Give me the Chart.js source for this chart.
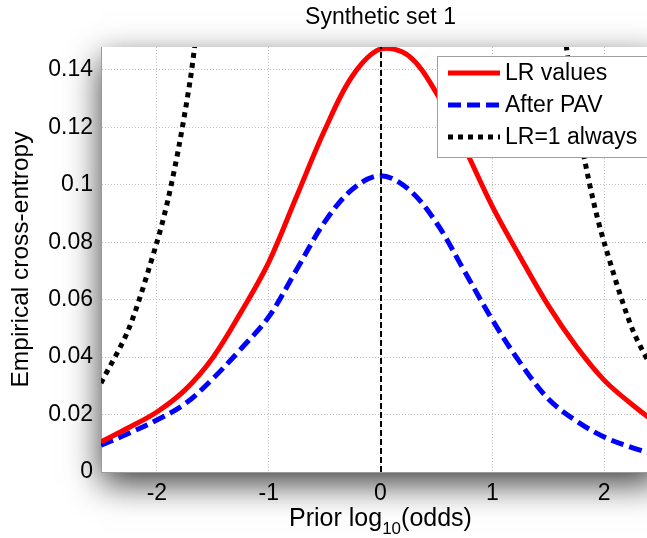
<!DOCTYPE html>
<html>
<head>
<meta charset="utf-8">
<script src="https://cdn.jsdelivr.net/npm/chart.js@4.4.0/dist/chart.umd.min.js"></script>
<style>
    html, body { margin: 0; padding: 0; background: #fff; overflow: hidden; }
    #wrap { width: 670px; height: 538px; }
</style>
</head>
<body>
<div id="wrap"><canvas id="ece" width="670" height="538"></canvas></div>
<script>
// prior log10(odds) grid the curves were read at
const priorLogOdds = [-2.5, -2.25, -2, -1.75, -1.5, -1.25, -1, -0.75, -0.5, -0.25, 0,
    0.25, 0.5, 0.75, 1, 1.25, 1.5, 1.75, 2, 2.25, 2.5];
const lrValues = [0.0105, 0.0155, 0.0209, 0.0285, 0.0398, 0.0555, 0.073, 0.096, 0.119, 0.138, 0.1473,
    0.145, 0.132, 0.113, 0.0925, 0.0748, 0.058, 0.0438, 0.032, 0.0235, 0.016];
const afterPav = [0.0093, 0.0135, 0.0181, 0.0237, 0.0325, 0.0428, 0.054, 0.0705, 0.087, 0.0985, 0.1032,
    0.0985, 0.0868, 0.07, 0.053, 0.038, 0.0255, 0.0178, 0.0122, 0.0085, 0.0055];
// LR=1 curve leaves the plot in the middle -> null gap
const neutralX = [-2.5, -2.25, -2, -1.9, -1.8, -1.7, -1.65, 0, 1.65, 1.7, 1.8, 1.9, 2, 2.25, 2.5];
const neutralY = [0.031, 0.05, 0.08, 0.095, 0.114, 0.137, 0.152, null, 0.152, 0.137, 0.114, 0.095, 0.08, 0.05, 0.031];
const xTicks = [-2, -1, 0, 1, 2];
const yTicks = [0, 0.02, 0.04, 0.06, 0.08, 0.1, 0.12, 0.14];
const markerAt = [0];

const FONT = "'Liberation Sans', Arial, sans-serif";
Chart.defaults.font.family = FONT;
Chart.defaults.color = "#000";

function pts(xs, ys) {
    return xs.map((x, i) => ({ x: x, y: ys[i] }));
}

const shadowBox = {
    id: "shadowBox",
    beforeDraw(chart) {
        const a = chart.chartArea;
        const c = chart.ctx;
        c.save();
        c.shadowColor = "rgba(0,0,0,0.75)";
        c.shadowBlur = 32;
        c.shadowOffsetY = 12;
        c.fillStyle = "#fff";
        c.fillRect(a.left, a.top, a.right - a.left, a.bottom - a.top);
        c.restore();
    }
};

const zeroLine = {
    id: "zeroLine",
    afterDatasetsDraw(chart) {
        const a = chart.chartArea;
        const c = chart.ctx;
        const xs = chart.scales.x;
        c.save();
        c.strokeStyle = "#000";
        c.lineWidth = 2;
        c.setLineDash([6, 3]);
        markerAt.forEach((v) => {
            const px = Math.round(xs.getPixelForValue(v));
            c.beginPath();
            c.moveTo(px, a.bottom);
            c.lineTo(px, a.top);
            c.stroke();
        });
        c.restore();
    }
};

const texts = {
    id: "texts",
    afterDraw(chart) {
        const a = chart.chartArea;
        const c = chart.ctx;
        const mid = (a.left + a.right) / 2;
        c.save();
        c.fillStyle = "#000";
        // title
        c.font = "23px " + FONT;
        c.textAlign = "center";
        c.textBaseline = "middle";
        c.fillText("Synthetic set 1", mid, 18);
        // x title with subscript
        c.textBaseline = "alphabetic";
        c.textAlign = "left";
        const p1 = "Prior log", sub = "10", p2 = "(odds)";
        c.font = "25px " + FONT;
        const w1 = c.measureText(p1).width, w3 = c.measureText(p2).width;
        c.font = "17px " + FONT;
        const w2 = c.measureText(sub).width;
        let x = mid - (w1 + w2 + w3) / 2;
        const base = 526;
        c.font = "25px " + FONT;
        c.fillText(p1, x, base);
        c.font = "17px " + FONT;
        c.fillText(sub, x + w1, base + 8);
        c.font = "25px " + FONT;
        c.fillText(p2, x + w1 + w2, base);

        // legend
        const lx = 437.5, ly = 56.5;
        c.fillStyle = "#fff";
        c.strokeStyle = "#a0a0a0";
        c.lineWidth = 1;
        c.fillRect(lx, ly, 220, 101);
        c.strokeRect(lx, ly, 220, 101);
        chart.data.datasets.filter((d) => d.label).forEach((d, i) => {
            const y = 73 + i * 32;
            c.beginPath();
            c.strokeStyle = d.borderColor;
            c.lineWidth = d.borderWidth;
            c.setLineDash(d.borderDash || []);
            c.moveTo(448, y);
            c.lineTo(500, y);
            c.stroke();
            c.setLineDash([]);
            c.fillStyle = "#000";
            c.font = "23px " + FONT;
            c.textBaseline = "middle";
            c.fillText(d.label, 505, y + 1);
        });
        c.restore();
    }
};

new Chart(document.getElementById("ece"), {
    type: "line",
    data: {
        datasets: [
            {
                label: "LR values",
                data: pts(priorLogOdds, lrValues),
                borderColor: "#ff0000",
                borderWidth: 5,
                pointRadius: 0,
                tension: 0.35,
                clip: 0
            },
            {
                label: "After PAV",
                data: pts(priorLogOdds, afterPav),
                borderColor: "#0000ff",
                borderWidth: 5,
                borderDash: [13, 6],
                pointRadius: 0,
                tension: 0.35,
                clip: 0
            },
            {
                label: "LR=1 always",
                data: pts(neutralX, neutralY),
                borderColor: "#000000",
                borderWidth: 5,
                borderDash: [5, 5],
                pointRadius: 0,
                tension: 0.3,
                spanGaps: false,
                clip: 0
            }
        ]
    },
    options: {
        responsive: false,
        animation: false,
        layout: { padding: { top: 47, right: 10, left: 0, bottom: 0 } },
        plugins: {
            legend: { display: false },
            title: { display: false },
            tooltip: { enabled: false }
        },
        scales: {
            x: {
                type: "linear",
                min: -2.5,
                max: 2.5,
                afterBuildTicks: (s) => { s.ticks = xTicks.map((v) => ({ value: v })); },
                afterFit: (s) => { s.height = 66; },
                grid: { color: "#bdbdbd", drawTicks: false },
                border: { color: "#9a9a9a", dash: [1, 2] },
                ticks: { padding: 8, font: { size: 23 }, color: "#000" }
            },
            y: {
                type: "linear",
                min: 0,
                max: 0.148,
                afterBuildTicks: (s) => { s.ticks = yTicks.map((v) => ({ value: v })); },
                afterFit: (s) => { s.width = 101; },
                grid: { color: "#bdbdbd", drawTicks: false },
                border: { color: "#9a9a9a", dash: [1, 2] },
                ticks: {
                    padding: 8,
                    font: { size: 23 },
                    color: "#000",
                    callback: (v) => String(+v.toFixed(2))
                },
                title: {
                    display: true,
                    text: "Empirical cross-entropy",
                    font: { size: 24.5 },
                    color: "#000",
                    padding: { top: 7, bottom: 0 }
                }
            }
        }
    },
    plugins: [shadowBox, zeroLine, texts]
});
</script>
</body>
</html>
